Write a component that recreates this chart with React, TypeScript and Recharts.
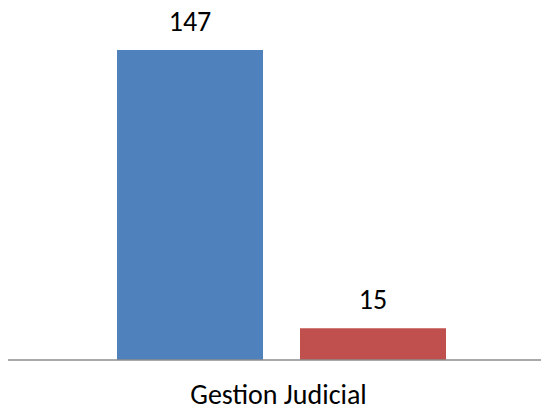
import { BarChart, Bar, XAxis, YAxis, LabelList } from 'recharts'

const categories = ['Gestion Judicial']
const serieA = [147]
const serieB = [15]

const data = categories.map((name, i) => ({ name, a: serieA[i], b: serieB[i] }))

const font = 'Carlito, "Open Sans", "Liberation Sans", sans-serif'

export default function App() {
  return (
    <div style={{ margin: -8, width: 549, height: 412, background: '#fff' }}>
      <BarChart
        width={549}
        height={412}
        data={data}
        margin={{ top: 50, right: 0, bottom: 0, left: 8 }}
        barSize={146}
        barGap={37}
      >
        <XAxis
          dataKey="name"
          height={52}
          padding={{ left: 6, right: 0 }}
          tickLine={false}
          axisLine={{ stroke: '#8c8c8c', strokeWidth: 1.5 }}
          tickMargin={18}
          tick={{ fontSize: 28, fill: '#000', fontFamily: font, dx: -3 }}
        />
        <YAxis hide domain={[0, 147]} />
        <Bar dataKey="a" fill="#4F81BD" isAnimationActive={false}>
          <LabelList dataKey="a" position="top" offset={19} fill="#000" fontSize={28} fontFamily={font} />
        </Bar>
        <Bar dataKey="b" fill="#C0504D" isAnimationActive={false}>
          <LabelList dataKey="b" position="top" offset={19} fill="#000" fontSize={28} fontFamily={font} />
        </Bar>
      </BarChart>
    </div>
  )
}
